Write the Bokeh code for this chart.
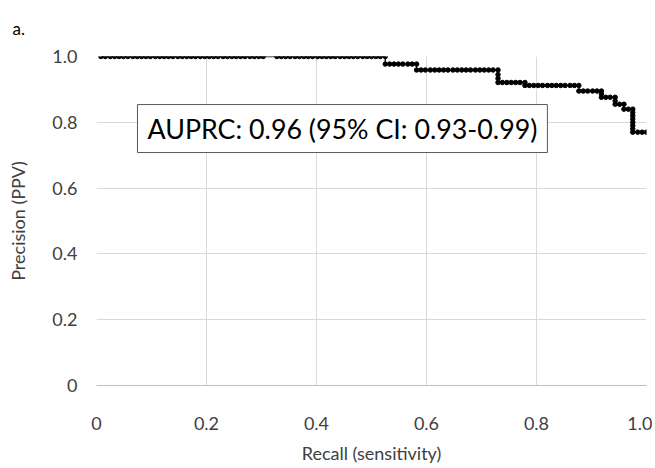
from bokeh.plotting import figure
from bokeh.models import Label, FixedTicker, Range1d
from bokeh.embed import file_html
from bokeh.resources import INLINE

# --- data (recall, precision) ---
recall = [
    0.008, 0.016, 0.025, 0.033, 0.041, 0.049, 0.057, 0.066, 0.074, 0.082,
    0.090, 0.098, 0.107, 0.115, 0.123, 0.131, 0.139, 0.148, 0.156, 0.164,
    0.172, 0.180, 0.189, 0.197, 0.205, 0.213, 0.221, 0.230, 0.238, 0.246,
    0.254, 0.262, 0.270, 0.279, 0.287, 0.295, 0.303,
    0.328, 0.336, 0.344, 0.352, 0.361, 0.369, 0.377, 0.385, 0.393, 0.402,
    0.410, 0.418, 0.426, 0.434, 0.443, 0.451, 0.459, 0.467, 0.475, 0.484,
    0.492, 0.500, 0.508, 0.516, 0.525,
    0.525, 0.533, 0.541, 0.549, 0.557, 0.566, 0.574, 0.582,
    0.582, 0.590, 0.598, 0.607, 0.615, 0.623, 0.631, 0.639, 0.648, 0.656,
    0.664, 0.672, 0.680, 0.689, 0.697, 0.705, 0.713, 0.721, 0.730,
    0.730, 0.730,
    0.730, 0.738, 0.746, 0.754, 0.762, 0.770, 0.779,
    0.779, 0.787, 0.795, 0.803, 0.811, 0.820, 0.828, 0.836, 0.844, 0.852,
    0.861, 0.869, 0.877,
    0.877, 0.885, 0.893, 0.902, 0.910, 0.918,
    0.918,
    0.918, 0.926, 0.934, 0.943,
    0.943,
    0.943, 0.951, 0.959,
    0.959, 0.967, 0.975,
    0.975, 0.975, 0.975, 0.975, 0.975, 0.975,
    0.975, 0.984, 0.992, 1.000,
]
precision = (
    [1.0] * 62
    + [0.977] * 8
    + [0.959] * 19
    + [0.945, 0.933]
    + [0.921] * 7
    + [0.912] * 13
    + [0.895] * 6
    + [0.886]
    + [0.876] * 4
    + [0.865]
    + [0.855] * 3
    + [0.840] * 3
    + [0.830, 0.820, 0.810, 0.800, 0.790, 0.780]
    + [0.770] * 4
)

x_ticks = [0, 0.2, 0.4, 0.6, 0.8, 1.0]
x_tick_labels = ["0", "0.2", "0.4", "0.6", "0.8", "1.0"]
y_ticks = [0, 0.2, 0.4, 0.6, 0.8, 1.0]
y_tick_labels = ["0", "0.2", "0.4", "0.6", "0.8", "1.0"]
annotation = "AUPRC: 0.96 (95% CI: 0.93-0.99)"
panel_tag = "a."

FONT = "Lato"
TEXT_COLOR = "#404040"
GRID = "#d9d9d9"

p = figure(
    width=652, height=466,
    x_range=Range1d(0, 1.0), y_range=Range1d(0, 1.0),
    output_backend="svg", toolbar_location=None,
    min_border_left=96, min_border_right=6,
    min_border_top=56, min_border_bottom=80,
)
p.outline_line_color = None
p.background_fill_color = "white"

# panel tag "a." as a left-aligned title in the top-left corner
p.title.text = panel_tag
p.title.align = "left"
p.title.vertical_align = "top"
p.title.text_font = FONT
p.title.text_font_size = "17px"
p.title.text_font_style = "normal"
p.title.text_color = "black"
p.title.offset = -84
p.title.standoff = 32

p.xaxis.ticker = FixedTicker(ticks=x_ticks)
p.yaxis.ticker = FixedTicker(ticks=y_ticks)
p.xaxis.major_label_overrides = {t: l for t, l in zip(x_ticks, x_tick_labels)}
p.yaxis.major_label_overrides = {t: l for t, l in zip(y_ticks, y_tick_labels)}

for ax in (p.xaxis, p.yaxis):
    ax.major_tick_line_color = None
    ax.minor_tick_line_color = None
    ax.major_label_text_font = FONT
    ax.major_label_text_font_size = "18px"
    ax.major_label_text_color = TEXT_COLOR
    ax.axis_label_text_font = FONT
    ax.axis_label_text_font_size = "18px"
    ax.axis_label_text_font_style = "normal"
    ax.axis_label_text_color = TEXT_COLOR

p.xaxis.axis_line_color = "#bfbfbf"
p.yaxis.axis_line_color = None
p.xaxis.axis_label = "Recall (sensitivity)"
p.yaxis.axis_label = "Precision (PPV)"
p.xaxis.major_label_standoff = 25
p.xaxis.axis_label_standoff = 9
p.yaxis.major_label_standoff = 13
p.yaxis.axis_label_standoff = 20

p.xgrid.grid_line_color = GRID
p.ygrid.grid_line_color = GRID

p.line(recall, precision, line_color="black", line_width=1.3)
p.scatter(recall, precision, size=4.5, fill_color="black", line_color="black")

lab = Label(
    x=0.0745, y=0.854, text=annotation, anchor="top_left",
    text_font=FONT, text_font_size="26.8px", text_color="black",
    border_line_color="#595959", border_line_width=1,
    background_fill_color="white",
    padding=dict(left=10, right=10, top=8, bottom=8),
)
p.add_layout(lab)

open("out.html", "w").write(file_html(p, INLINE))
